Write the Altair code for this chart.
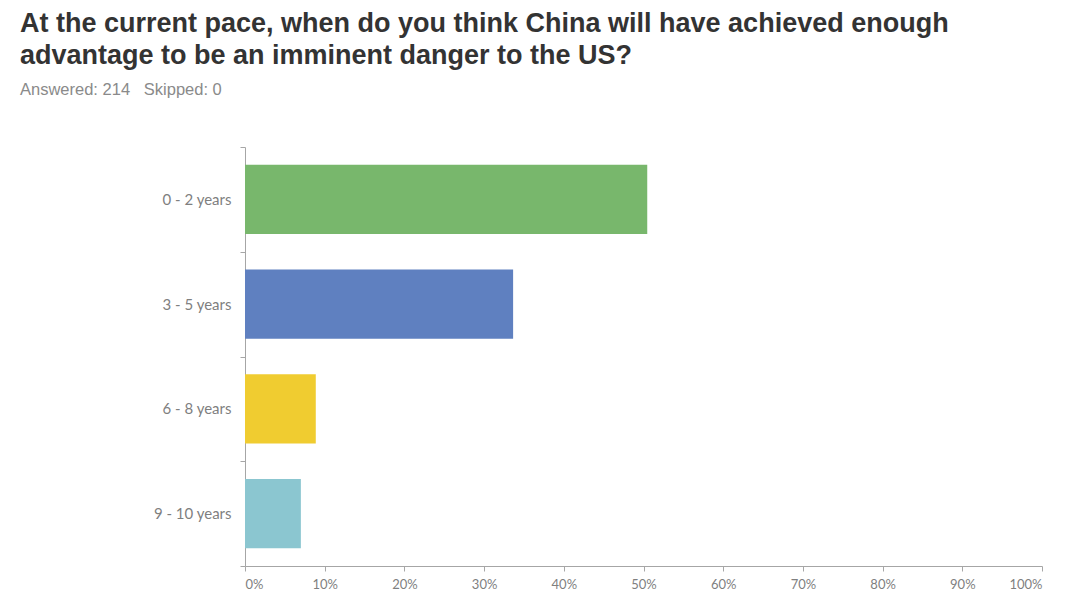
import altair as alt
import pandas as pd

categories = ["0 - 2 years", "3 - 5 years", "6 - 8 years", "9 - 10 years"]
percents = [50.47, 33.64, 8.88, 7.01]
colors = ["#78b76c", "#5f80c0", "#f0cc30", "#8bc6d0"]

df = pd.DataFrame({"category": categories, "pct": percents})

bars = alt.Chart(df).mark_bar(height=alt.RelativeBandSize(0.66)).encode(
    y=alt.Y(
        "category:N",
        sort=categories,
        scale=alt.Scale(paddingInner=0, paddingOuter=0),
        axis=alt.Axis(
            title=None,
            tickBand="extent",
            domainColor="#a6a6a6",
            tickColor="#a6a6a6",
            tickSize=5,
            labelPadding=9,
            labelFont="Lato",
            labelFontSize=15,
            labelColor="#7f7f7f",
        ),
    ),
    x=alt.X(
        "pct:Q",
        scale=alt.Scale(domain=[0, 100], nice=False),
        axis=alt.Axis(
            title=None,
            values=list(range(0, 101, 10)),
            labelExpr="datum.value + '%'",
            grid=False,
            domainColor="#a6a6a6",
            tickColor="#a6a6a6",
            tickSize=5,
            labelPadding=7,
            labelFont="Lato",
            labelFontSize=13,
            labelColor="#7f7f7f",
        ),
    ),
    color=alt.Color(
        "category:N",
        scale=alt.Scale(domain=categories, range=colors),
        legend=None,
    ),
)

chart = bars.properties(
    width=797,
    height=419,
    autosize=alt.AutoSizeParams(type="none"),
    padding={"left": 237, "top": 139, "right": 15, "bottom": 26},
    background="white",
    title=alt.TitleParams(
        text=[
            "At the current pace, when do you think China will have achieved enough",
            "advantage to be an imminent danger to the US?",
        ],
        subtitle="Answered: 214\u00a0\u00a0\u00a0Skipped: 0",
        anchor="start",
        frame="group",
        dx=-225,
        offset=41,
        font="Liberation Sans",
        fontSize=27,
        fontWeight="bold",
        color="#333333",
        lineHeight=32,
        subtitleFont="Liberation Sans",
        subtitleFontSize=16.5,
        subtitleColor="#8a8a8a",
        subtitlePadding=12,
    ),
).configure_view(stroke=None)

chart.save("out.html", embed_options={"renderer": "svg", "actions": False})
